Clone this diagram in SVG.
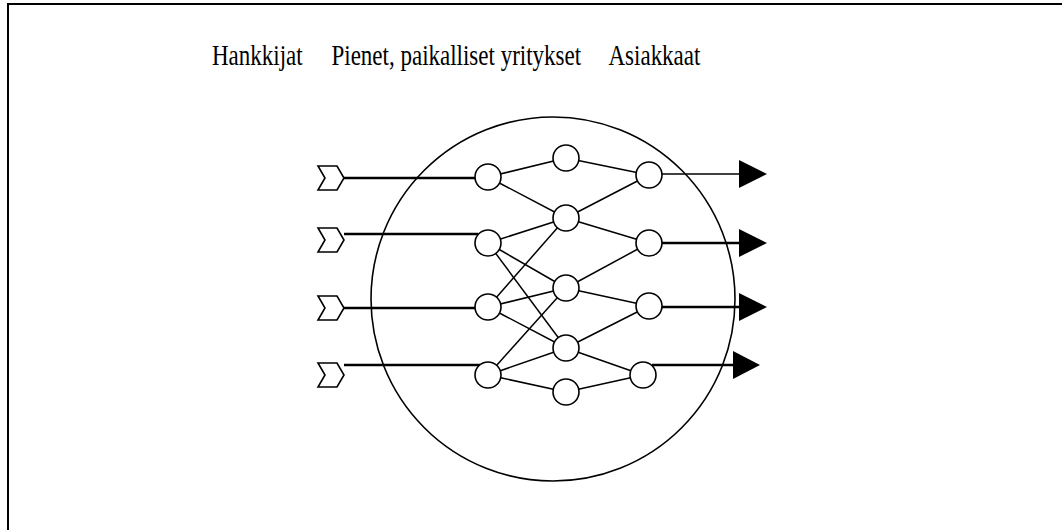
<svg xmlns="http://www.w3.org/2000/svg" width="1062" height="530" viewBox="0 0 1062 530">
<style>
.lbl{font-family:"Liberation Serif","Times New Roman",serif;font-size:23px;fill:#000}
.node{fill:#fff;stroke:#000;stroke-width:1.6}
.edge{stroke:#000;stroke-width:1.5;fill:none}
.in{stroke:#000;stroke-width:2.6;fill:none}
.chev{fill:#fff;stroke:#000;stroke-width:1.6;stroke-linejoin:miter}
.head{fill:#000}
</style>
<rect width="1062" height="530" fill="#fff"/>
<path d="M8,531 V4 H1063" fill="none" stroke="#000" stroke-width="2"/>
<g id="labels">
<text class="lbl" transform="translate(212,65) scale(1,1.25)">Hankkijat</text>
<text class="lbl" transform="translate(331.5,65) scale(1,1.25)">Pienet, paikalliset yritykset</text>
<text class="lbl" transform="translate(608.5,65) scale(1,1.25)">Asiakkaat</text>
</g>
<g id="boundary"><circle cx="553" cy="299" r="182" fill="none" stroke="#000" stroke-width="1.6"/></g>
<g id="connectors">
<line class="in" x1="344" y1="178" x2="475" y2="178"/>
<line class="in" x1="344" y1="234" x2="478" y2="234"/>
<line class="in" x1="344" y1="308" x2="475" y2="308"/>
<line class="in" x1="344" y1="365" x2="480" y2="365"/>
<line class="edge" x1="488" y1="177" x2="566" y2="158"/>
<line class="edge" x1="488" y1="177" x2="566" y2="218"/>
<line class="edge" x1="488" y1="243" x2="566" y2="218"/>
<line class="edge" x1="488" y1="243" x2="566" y2="288"/>
<line class="edge" x1="488" y1="243" x2="566" y2="348"/>
<line class="edge" x1="488" y1="307" x2="566" y2="218"/>
<line class="edge" x1="488" y1="307" x2="566" y2="288"/>
<line class="edge" x1="488" y1="307" x2="566" y2="348"/>
<line class="edge" x1="488" y1="375" x2="566" y2="288"/>
<line class="edge" x1="488" y1="375" x2="566" y2="348"/>
<line class="edge" x1="488" y1="375" x2="566" y2="392"/>
<line class="edge" x1="566" y1="158" x2="649" y2="175"/>
<line class="edge" x1="566" y1="218" x2="649" y2="175"/>
<line class="edge" x1="566" y1="218" x2="649" y2="243"/>
<line class="edge" x1="566" y1="288" x2="649" y2="243"/>
<line class="edge" x1="566" y1="288" x2="649" y2="306"/>
<line class="edge" x1="566" y1="348" x2="649" y2="306"/>
<line class="edge" x1="566" y1="348" x2="643" y2="375"/>
<line class="edge" x1="566" y1="392" x2="643" y2="375"/>
<line class="edge" x1="661" y1="174" x2="740" y2="174"/>
<line class="in" x1="661" y1="243" x2="740" y2="243"/>
<line class="in" x1="661" y1="307" x2="740" y2="307"/>
<line class="in" x1="652" y1="365" x2="734" y2="365"/>
<polygon class="head" points="739,160 767,174 739,188"/>
<polygon class="head" points="739,229 767,243 739,257"/>
<polygon class="head" points="739,293 767,307 739,321"/>
<polygon class="head" points="733,351 760,365 733,379"/>
</g>
<g id="suppliers">
<polygon class="chev" points="318,166 337,166 344,178 337,190 318,190 325,178"/>
<polygon class="chev" points="318,228 337,228 344,240 337,252 318,252 325,240"/>
<polygon class="chev" points="318,296 337,296 344,308 337,320 318,320 325,308"/>
<polygon class="chev" points="318,363 337,363 344,375 337,387 318,387 325,375"/>
</g>
<g id="nodes">
<circle id="a1" class="node" cx="488" cy="177" r="13"/>
<circle id="a2" class="node" cx="488" cy="243" r="13"/>
<circle id="a3" class="node" cx="488" cy="307" r="13"/>
<circle id="a4" class="node" cx="488" cy="375" r="13"/>
<circle id="b1" class="node" cx="566" cy="158" r="13"/>
<circle id="b2" class="node" cx="566" cy="218" r="13"/>
<circle id="b3" class="node" cx="566" cy="288" r="13"/>
<circle id="b4" class="node" cx="566" cy="348" r="13"/>
<circle id="b5" class="node" cx="566" cy="392" r="13"/>
<circle id="c1" class="node" cx="649" cy="175" r="13"/>
<circle id="c2" class="node" cx="649" cy="243" r="13"/>
<circle id="c3" class="node" cx="649" cy="306" r="13"/>
<circle id="c4" class="node" cx="643" cy="375" r="13"/>
</g>
</svg>
